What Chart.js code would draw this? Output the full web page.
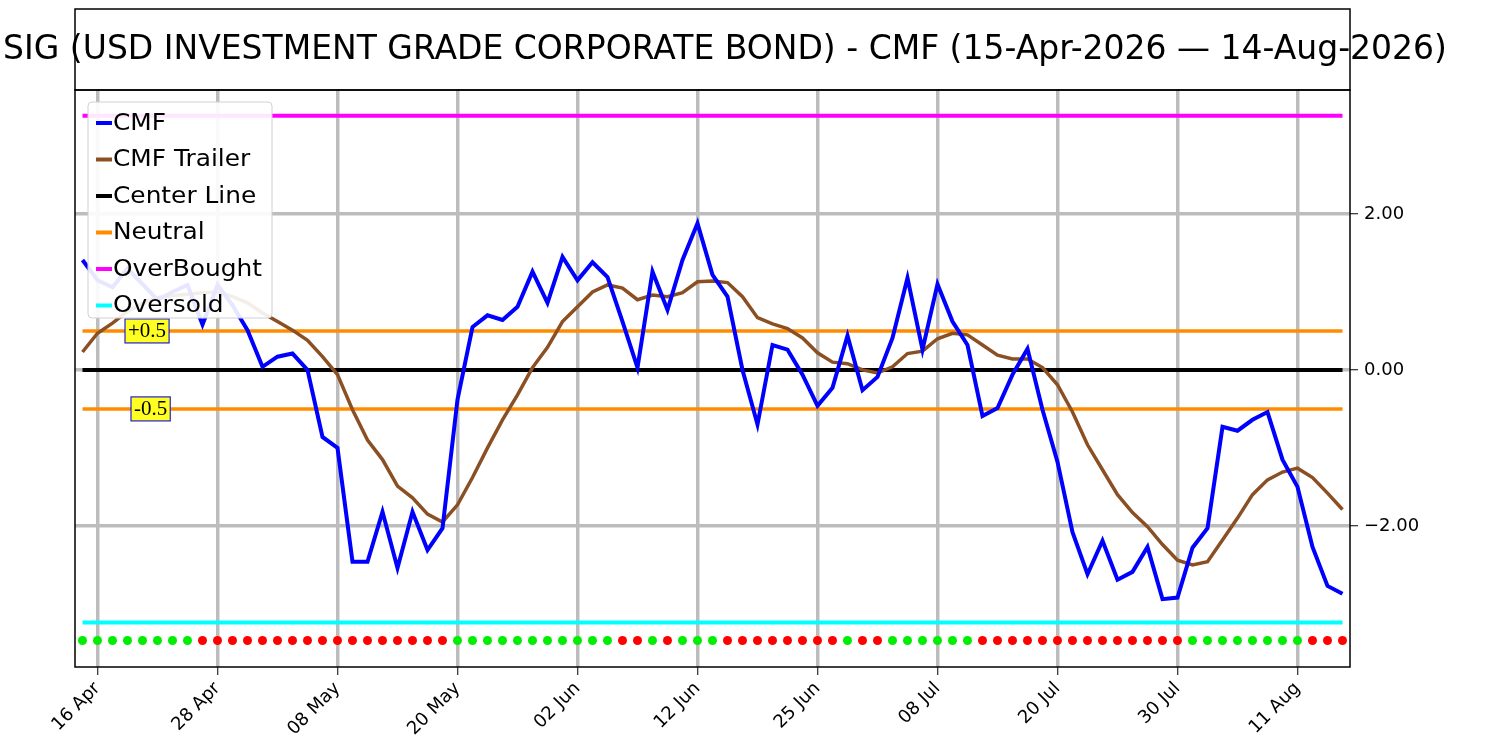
<!DOCTYPE html>
<html>
<head>
<meta charset="utf-8">
<script src="https://cdn.jsdelivr.net/npm/chart.js@4"></script>
<style>
  body { margin: 0; background: #fff; }
  #wrap { width: 1500px; height: 750px; }
</style>
</head>
<body>
<div id="wrap"><canvas id="c" width="1500" height="750"></canvas></div>
<script>
// trading days, 15-Apr-2026 .. 14-Aug-2026
const dates = [
  '15 Apr','16 Apr','17 Apr','20 Apr','21 Apr','22 Apr','23 Apr','24 Apr','27 Apr','28 Apr',
  '29 Apr','30 Apr','01 May','04 May','05 May','06 May','07 May','08 May','11 May','12 May',
  '13 May','14 May','15 May','18 May','19 May','20 May','21 May','22 May','26 May','27 May',
  '28 May','29 May','01 Jun','02 Jun','03 Jun','04 Jun','05 Jun','08 Jun','09 Jun','10 Jun',
  '11 Jun','12 Jun','15 Jun','16 Jun','17 Jun','18 Jun','22 Jun','23 Jun','24 Jun','25 Jun',
  '26 Jun','29 Jun','30 Jun','01 Jul','02 Jul','06 Jul','07 Jul','08 Jul','09 Jul','10 Jul',
  '13 Jul','14 Jul','15 Jul','16 Jul','17 Jul','20 Jul','21 Jul','22 Jul','23 Jul','24 Jul',
  '27 Jul','28 Jul','29 Jul','30 Jul','31 Jul','03 Aug','04 Aug','05 Aug','06 Aug','07 Aug',
  '10 Aug','11 Aug','12 Aug','13 Aug','14 Aug'
]
const tickIdx = [1, 9, 17, 25, 33, 41, 49, 57, 65, 73, 81]
const yTicks = [-2, 0, 2]

const cmf = [
  1.41, 1.15, 1.06, 1.30, 1.10, 0.90, 1.00, 1.09, 0.58, 1.09,
  0.83, 0.51, 0.04, 0.17, 0.21, 0.00, -0.86, -1.00, -2.46, -2.46,
  -1.82, -2.54, -1.82, -2.31, -2.03, -0.38, 0.55, 0.70, 0.64, 0.81,
  1.26, 0.86, 1.45, 1.15, 1.38, 1.19, 0.62, 0.03, 1.26, 0.77,
  1.41, 1.88, 1.22, 0.94, 0.00, -0.70, 0.32, 0.26, -0.06, -0.46,
  -0.23, 0.44, -0.26, -0.09, 0.41, 1.18, 0.26, 1.10, 0.62, 0.32,
  -0.59, -0.49, -0.06, 0.27, -0.51, -1.18, -2.08, -2.62, -2.19, -2.69,
  -2.59, -2.27, -2.94, -2.92, -2.28, -2.03, -0.73, -0.78, -0.64, -0.54,
  -1.15, -1.50, -2.27, -2.77, -2.87
]
const trailer = [
  0.23, 0.47, 0.60, 0.75, 0.85, 0.93, 0.95, 0.97, 0.99, 1.00,
  0.94, 0.86, 0.73, 0.62, 0.51, 0.38, 0.17, -0.06, -0.51, -0.90,
  -1.15, -1.49, -1.64, -1.85, -1.95, -1.73, -1.38, -1.00, -0.64, -0.32,
  0.03, 0.29, 0.62, 0.81, 1.00, 1.09, 1.05, 0.90, 0.96, 0.94,
  0.99, 1.13, 1.14, 1.12, 0.94, 0.67, 0.59, 0.53, 0.41, 0.22,
  0.10, 0.08, 0.00, -0.04, 0.04, 0.21, 0.24, 0.40, 0.47, 0.45,
  0.32, 0.19, 0.14, 0.14, 0.03, -0.19, -0.54, -0.96, -1.28, -1.60,
  -1.83, -2.01, -2.24, -2.44, -2.50, -2.46, -2.18, -1.90, -1.60, -1.41,
  -1.31, -1.26, -1.38, -1.58, -1.79
]
// 1 = green dot, 0 = red dot
const signal = [
  1,1,1,1,1,1,1,1,0,0, 0,0,0,0,0,0,0,0,0,0, 0,0,0,0,0,1,1,1,1,1,
  1,1,1,1,1,1,0,0,1,0, 1,1,1,0,0,0,0,0,0,0, 0,1,0,0,1,1,1,1,1,1,
  0,0,0,0,0,0,0,0,0,0, 0,0,0,0,1,1,1,1,1,1, 1,1,0,0,0
]
const overBought = 3.26
const overSold = -3.24
const neutral = 0.5
const dotLevel = -3.47

const xy = (arr) => arr.map((v, i) => ({ x: i, y: v }))
const flat = (v) => [{ x: 0, y: v }, { x: dates.length - 1, y: v }]

const datasets = [
  { label: 'CMF', data: xy(cmf), borderColor: '#0000ff', borderWidth: 4 },
  { label: 'CMF Trailer', data: xy(trailer), borderColor: '#8b4f24', borderWidth: 3.5 },
  { label: 'Center Line', data: flat(0), borderColor: '#000000', borderWidth: 4 },
  { label: 'Neutral', data: flat(neutral), borderColor: '#ff8c00', borderWidth: 3.5 },
  { label: 'Neutral', data: flat(-neutral), borderColor: '#ff8c00', borderWidth: 3.5, noLegend: true },
  { label: 'OverBought', data: flat(overBought), borderColor: '#ff00ff', borderWidth: 4 },
  { label: 'Oversold', data: flat(overSold), borderColor: '#00ffff', borderWidth: 4 },
  {
    label: 'signal', noLegend: true, showLine: false,
    data: signal.map((s, i) => ({ x: i, y: dotLevel })),
    pointRadius: 4.5, pointBorderWidth: 0,
    pointBackgroundColor: signal.map(s => s ? '#00ee00' : '#ff0000')
  }
].map(d => Object.assign({ pointRadius: 0, tension: 0, fill: false }, d))

const title = 'SIG (USD INVESTMENT GRADE CORPORATE BOND) - CMF (15-Apr-2026 \u2014 14-Aug-2026)'

const decor = {
  id: 'decor',
  afterDraw(chart) {
    const { ctx, chartArea: a, scales } = chart
    ctx.save()
    // title box
    ctx.strokeStyle = '#000'; ctx.lineWidth = 1.5
    ctx.strokeRect(a.left, 9, a.right - a.left, a.top - 9)
    ctx.fillStyle = '#000'; ctx.font = '33px "DejaVu Sans"'
    ctx.textAlign = 'center'; ctx.textBaseline = 'middle'
    ctx.fillText(title, 725, 50)
    // plot frame
    ctx.strokeRect(a.left, a.top, a.right - a.left, a.bottom - a.top)
    // level labels
    ctx.font = '21px "Liberation Serif"'
    for (const [txt, v, x] of [['+0.5', neutral, 125], ['-0.5', -neutral, 131]]) {
      const y = scales.y.getPixelForValue(v)
      const w = ctx.measureText(txt).width + 6
      ctx.fillStyle = '#ffff22'; ctx.strokeStyle = '#2222cc'; ctx.lineWidth = 1.2
      ctx.fillRect(x, y - 12, w, 24); ctx.strokeRect(x, y - 12, w, 24)
      ctx.fillStyle = '#000'; ctx.textAlign = 'left'
      ctx.fillText(txt, x + 3, y + 1)
    }
    // legend
    const items = chart.data.datasets.filter(d => !d.noLegend)
    const lx = 88, ly = 102, lw = 184, lh = 216
    ctx.fillStyle = 'rgba(255,255,255,0.9)'; ctx.strokeStyle = '#d0d0d0'; ctx.lineWidth = 1
    ctx.beginPath(); ctx.roundRect(lx, ly, lw, lh, 4); ctx.fill(); ctx.stroke()
    ctx.font = '23px "DejaVu Sans"'; ctx.textAlign = 'left'
    ctx.save(); ctx.translate(113, 0); ctx.scale(1.08, 1)
    items.forEach((d, i) => {
      const y = ly + 21 + i * 36.5
      ctx.fillStyle = '#000'; ctx.fillText(d.label, 0, y + 1)
    })
    ctx.restore()
    items.forEach((d, i) => {
      const y = ly + 21 + i * 36.5
      ctx.strokeStyle = d.borderColor; ctx.lineWidth = 4
      ctx.beginPath(); ctx.moveTo(lx + 8, y); ctx.lineTo(lx + 24, y); ctx.stroke()
    })
    ctx.restore()
  }
}

new Chart(document.getElementById('c'), {
  type: 'line',
  data: { datasets },
  plugins: [decor],
  options: {
    responsive: false, animation: false,
    layout: { padding: { left: 75, top: 90, right: 0, bottom: 0 } },
    plugins: { legend: { display: false }, tooltip: { enabled: false } },
    scales: {
      x: {
        type: 'linear', min: -0.5, max: dates.length - 0.5,
        afterBuildTicks: (s) => { s.ticks = tickIdx.map(v => ({ value: v })) },
        afterFit: (s) => { s.height = 83 },
        ticks: {
          autoSkip: false, minRotation: 45, maxRotation: 45,
          color: '#000', font: { size: 18, family: 'DejaVu Sans' },
          callback: (v) => dates[v]
        },
        grid: { color: '#bdbdbd', lineWidth: 3.5, tickLength: 8, tickColor: '#000', tickWidth: 1 },
        border: { display: false }
      },
      y: {
        position: 'right', min: -3.81, max: 3.59,
        afterBuildTicks: (s) => { s.ticks = yTicks.map(v => ({ value: v })) },
        afterFit: (s) => { s.width = 150 },
        ticks: {
          color: '#000', font: { size: 18, family: 'DejaVu Sans' }, padding: 6,
          callback: (v) => (v < 0 ? '\u2212' : '') + Math.abs(v).toFixed(2)
        },
        grid: { color: '#bdbdbd', lineWidth: 3.5, tickLength: 8, tickColor: '#000', tickWidth: 1 },
        border: { display: false }
      }
    }
  }
})
</script>
</body>
</html>
